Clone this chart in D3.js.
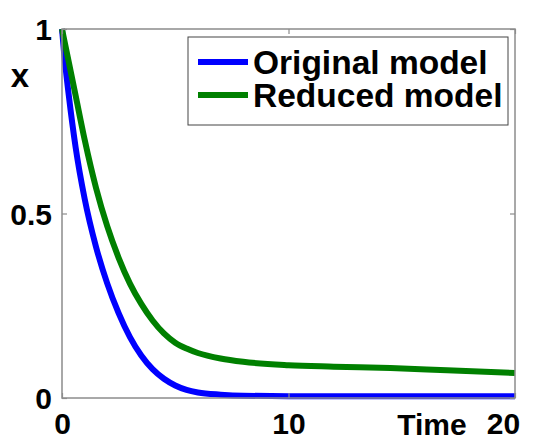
<!DOCTYPE html>
<html>
<head>
<meta charset="utf-8">
<script src="https://cdn.jsdelivr.net/npm/d3@7/dist/d3.min.js"></script>
<style>
  html, body { margin: 0; padding: 0; background: #fff; }
  svg { display: block; }
  text { font-family: "Liberation Sans", Arial, Helvetica, sans-serif; font-weight: bold; fill: #000; }
</style>
</head>
<body>
<svg id="chart" width="535" height="438"></svg>
<script>
// ---- data ----
const time          = [0, 0.1, 0.3, 0.6, 1.0, 1.5, 2.0, 2.5, 3.0, 3.5, 4.0, 4.5, 5.0, 5.5, 6.0, 7.0, 8.0, 10, 12, 14.5, 17, 20];
const originalModel = [1, 0.93, 0.82, 0.68, 0.54, 0.41, 0.31, 0.23, 0.165, 0.115, 0.078, 0.052, 0.034, 0.022, 0.015, 0.009, 0.006, 0.005, 0.005, 0.005, 0.005, 0.005];
const reducedModel  = [1, 0.97, 0.91, 0.82, 0.70, 0.57, 0.465, 0.38, 0.31, 0.255, 0.21, 0.175, 0.15, 0.134, 0.122, 0.107, 0.098, 0.089, 0.085, 0.081, 0.075, 0.068];
const seriesNames = ["Original model", "Reduced model"];
const seriesColors = ["#0000ff", "#008000"];
const xTicks = [0, 10, 20];
const yTicks = [0, 0.5, 1];
const yTickLabels = ["0", "0.5", "1"];
const xLabel = "Time";
const yLabel = "x";

// ---- layout ----
const svg = d3.select("#chart");
const L = 62, R = 515, T = 29, B = 398;
const x = d3.scaleLinear().domain([0, 20]).range([L, R]);
const y = d3.scaleLinear().domain([0, 1]).range([B, T]);
const frameColor = "#8c8c8c";

// lines
const series = [originalModel, reducedModel];
const line = d3.line().x((d, i) => x(time[i])).y(d => y(d)).curve(d3.curveMonotoneX);
series.forEach((vals, k) => {
  svg.append("path")
    .datum(vals)
    .attr("d", line)
    .attr("fill", "none")
    .attr("stroke", seriesColors[k])
    .attr("stroke-width", 6)
    .attr("stroke-linejoin", "round");
});

// frame
svg.append("rect")
  .attr("x", L).attr("y", T).attr("width", R - L).attr("height", B - T)
  .attr("fill", "none").attr("stroke", frameColor).attr("stroke-width", 1.5);

// axes (ticks inward)
const ax = svg.append("g").attr("transform", `translate(0,${B})`)
  .call(d3.axisBottom(x).tickValues(xTicks).tickSize(-5).tickPadding(15).tickFormat(d3.format("d")));
ax.select(".domain").remove();
ax.selectAll("line").attr("stroke", frameColor).attr("stroke-width", 1.2);
ax.selectAll("text").attr("font-size", 30).attr("dy", "0.71em")
  .attr("transform", d => d === 20 ? "translate(-12,0)" : null);

const axTop = svg.append("g").attr("transform", `translate(0,${T})`)
  .call(d3.axisTop(x).tickValues(xTicks).tickSize(-5).tickFormat(""));
axTop.select(".domain").remove();
axTop.selectAll("line").attr("stroke", frameColor).attr("stroke-width", 1.2);

const ay = svg.append("g").attr("transform", `translate(${L},0)`)
  .call(d3.axisLeft(y).tickValues(yTicks).tickSize(-5).tickPadding(10)
    .tickFormat((d, i) => yTickLabels[i]));
ay.select(".domain").remove();
ay.selectAll("line").attr("stroke", frameColor).attr("stroke-width", 1.2);
ay.selectAll("text").attr("font-size", 30).attr("dy", "0.36em");

const ayR = svg.append("g").attr("transform", `translate(${R},0)`)
  .call(d3.axisRight(y).tickValues(yTicks).tickSize(-5).tickFormat(""));
ayR.select(".domain").remove();
ayR.selectAll("line").attr("stroke", frameColor).attr("stroke-width", 1.2);

// axis labels
svg.append("text").attr("x", 432).attr("y", 435).attr("text-anchor", "middle")
  .attr("font-size", 30).text(xLabel);
svg.append("text").attr("x", 20).attr("y", 87).attr("text-anchor", "middle")
  .attr("font-size", 33).text(yLabel);

// legend
const lg = svg.append("g");
lg.append("rect").attr("x", 188).attr("y", 37).attr("width", 320).attr("height", 88)
  .attr("fill", "#fff").attr("stroke", "#444").attr("stroke-width", 1);
const legY = [62, 95];
seriesNames.forEach((name, k) => {
  lg.append("line").attr("x1", 198).attr("x2", 248).attr("y1", legY[k]).attr("y2", legY[k])
    .attr("stroke", seriesColors[k]).attr("stroke-width", 6);
  lg.append("text").attr("x", 253).attr("y", legY[k] + 12).attr("font-size", 33.5).text(name);
});
</script>
</body>
</html>
